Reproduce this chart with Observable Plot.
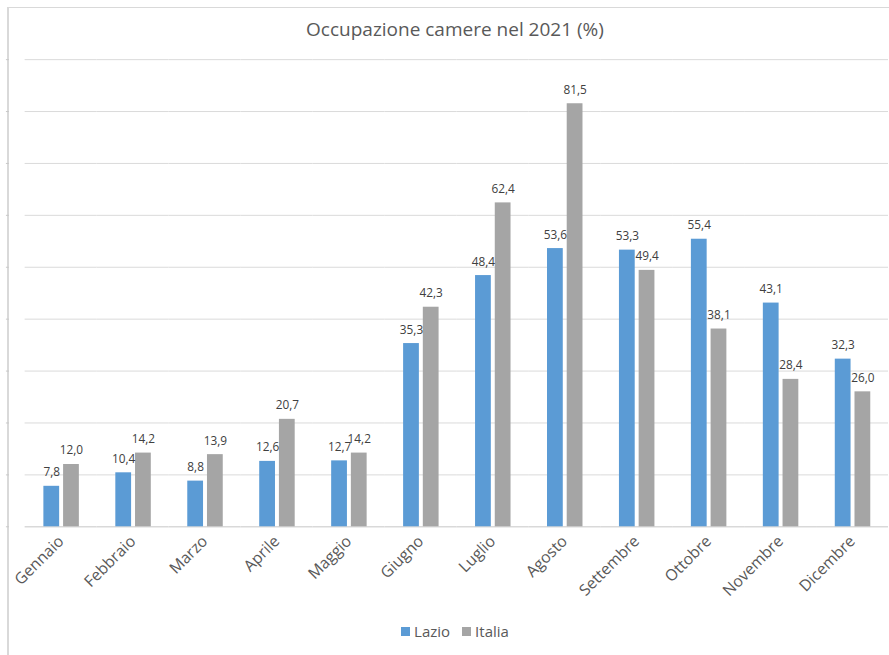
<!DOCTYPE html>
<html>
<head>
<meta charset="utf-8">
<script src="https://cdn.jsdelivr.net/npm/d3@7"></script>
<script src="https://cdn.jsdelivr.net/npm/@observablehq/plot@0.6"></script>
<style>
  html, body { margin: 0; padding: 0; background: #fff; overflow: hidden; }
  #wrap { position: relative; width: 889px; height: 655px; overflow: hidden; font-family: "Open Sans", sans-serif; }
  #frame { position: absolute; left: 7px; top: 7px; width: 1000px; height: 1000px; border-left: 2px solid #d9d9d9; border-top: 1px solid #d9d9d9; }
  #title { position: absolute; top: 16px; left: 0; width: 910px; text-align: center; font-size: 19px; color: #595959; }
  #chart { position: absolute; left: 0; top: 0; }
  #legend { position: absolute; top: 621px; left: 0; width: 910px; text-align: center; font-size: 15px; color: #595959; }
  #legend span.item { margin: 0 6px; }
  #legend span.sw { display: inline-block; width: 9px; height: 9px; margin-right: 4px; vertical-align: 1px; }
</style>
</head>
<body>
<div id="wrap">
  <div id="frame"></div>
  <div id="chart"></div>
  <div id="title"></div>
  <div id="legend"></div>
</div>
<script>
const titleText = "Occupazione camere nel 2021 (%)";
const months = ["Gennaio","Febbraio","Marzo","Aprile","Maggio","Giugno","Luglio","Agosto","Settembre","Ottobre","Novembre","Dicembre"];
const seriesNames = ["Lazio","Italia"];
const seriesColors = ["#5b9bd5","#a5a5a5"];
const lazio = [7.8,10.4,8.8,12.6,12.7,35.3,48.4,53.6,53.3,55.4,43.1,32.3];
const italia = [12.0,14.2,13.9,20.7,14.2,42.3,62.4,81.5,49.4,38.1,28.4,26.0];
const gridTicks = [0,10,20,30,40,50,60,70,80,90];

const data = [];
months.forEach((m, i) => {
  data.push({month: m, serie: "Lazio", value: lazio[i]});
  data.push({month: m, serie: "Italia", value: italia[i]});
});
const fmt = v => v.toFixed(1).replace(".", ",");

document.getElementById("title").textContent = titleText;

const chart = Plot.plot({
  width: 902,
  height: 655,
  marginTop: 60,
  marginBottom: 121,
  marginLeft: 24,
  marginRight: 0,
  style: {fontFamily: "Open Sans, sans-serif", background: "transparent", overflow: "visible"},
  fx: {domain: months, padding: 0, label: null, axis: null},
  x: {domain: seriesNames, paddingInner: 0.2, paddingOuter: 0.875, axis: null},
  y: {domain: [0, 90], axis: null},
  color: {domain: seriesNames, range: seriesColors},
  marks: [
    Plot.gridY(gridTicks.slice(1), {stroke: "#d9d9d9", strokeOpacity: 1}),
    Plot.ruleY([0], {stroke: "#d9d9d9", strokeWidth: 1.5}),
    Plot.barY(data, {fx: "month", x: "serie", y: "value", fill: "serie"}),
    Plot.text(data, {fx: "month", x: "serie", y: "value", text: d => fmt(d.value), dy: -14, fill: "#404040", fontSize: 12}),
    Plot.axisFx({anchor: "bottom", tickRotate: -45, tickSize: 0, tickPadding: 12, fontSize: 16, color: "#595959", label: null}),
    Plot.axisY(gridTicks, {tickSize: 3, dx: -16, tickFormat: () => "", stroke: "#c8c8c8", label: null})
  ]
});
document.getElementById("chart").appendChild(chart);

const legend = document.getElementById("legend");
seriesNames.forEach((s, i) => {
  const item = document.createElement("span");
  item.className = "item";
  const sw = document.createElement("span");
  sw.className = "sw";
  sw.style.background = seriesColors[i];
  item.appendChild(sw);
  item.appendChild(document.createTextNode(s));
  legend.appendChild(item);
});
</script>
</body>
</html>
